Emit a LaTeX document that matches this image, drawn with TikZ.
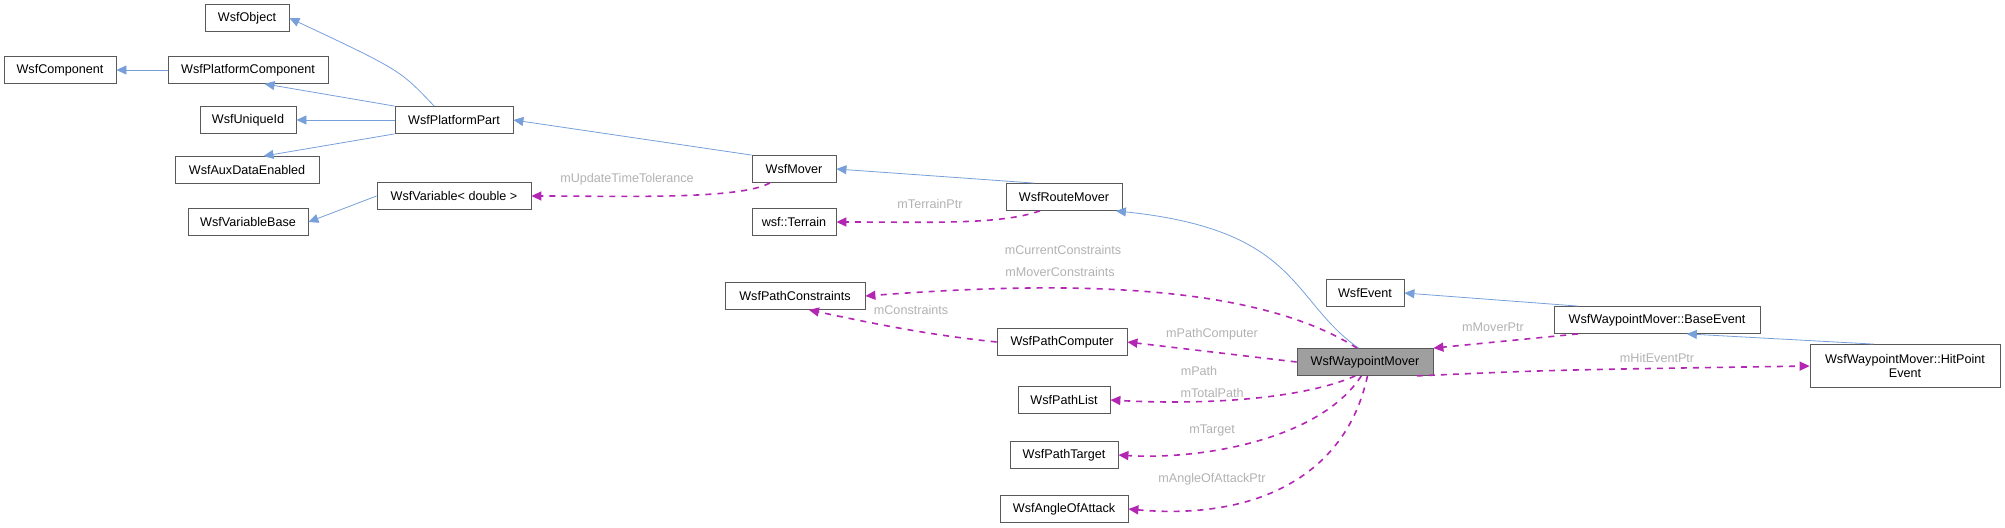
\documentclass[tikz,border=0pt]{standalone}
\usepackage{fontspec}
\setmainfont{Liberation Sans}
\usetikzlibrary{arrows.meta,positioning}

\tikzset{
  cls/.style={draw=gray!70!black, fill=white, minimum height=13.5pt, inner sep=1pt, font=\fontsize{6.3}{7}\selectfont},
  inh/.style={draw=cyan!50!blue!55, -{Triangle[length=5pt,width=4.5pt]}},
  use/.style={draw=violet!70!magenta!85, dashed, thick, -{Triangle[length=5pt,width=4.5pt]}},
  lbl/.style={text=gray!60, font=\fontsize{6.3}{7}\selectfont, inner sep=0pt}
}

\begin{document}
\begin{tikzpicture}[x=0.5pt,y=-0.5pt]
    \useasboundingbox (0,0) rectangle (2005,528);

    % Classes
    \node[cls, minimum width=42pt] (Object) at (247,18) {WsfObject};
    \node[cls, minimum width=56pt] (Component) at (60,70) {WsfComponent};
    \node[cls, minimum width=80pt] (PlatformComponent) at (248,70) {WsfPlatformComponent};
    \node[cls, minimum width=48pt] (UniqueId) at (248,120) {WsfUniqueId};
    \node[cls, minimum width=59pt] (PlatformPart) at (454,120) {WsfPlatformPart};
    \node[cls, minimum width=72pt] (AuxData) at (247,170) {WsfAuxDataEnabled};
    \node[cls, minimum width=77pt] (VariableT) at (454,196) {WsfVariable< double >};
    \node[cls, minimum width=60pt] (VariableBase) at (248,222) {WsfVariableBase};
    \node[cls, minimum width=42pt] (Mover) at (794,169) {WsfMover};
    \node[cls, minimum width=42pt] (Terrain) at (794,222) {wsf::Terrain};
    \node[cls, minimum width=58pt] (RouteMover) at (1064,197) {WsfRouteMover};
    \node[cls, minimum width=70pt] (PathConstraints) at (795,296) {WsfPathConstraints};
    \node[cls, minimum width=65pt] (PathComputer) at (1062,342) {WsfPathComputer};
    \node[cls, minimum width=46pt] (PathList) at (1064,400) {WsfPathList};
    \node[cls, minimum width=54pt] (PathTarget) at (1064,455) {WsfPathTarget};
    \node[cls, minimum width=64pt] (AngleOfAttack) at (1064,509) {WsfAngleOfAttack};
    \node[cls, minimum width=39pt] (Event) at (1365,293) {WsfEvent};
    \node[cls, minimum width=103pt] (BaseEvent) at (1657,320) {WsfWaypointMover::BaseEvent};
    \node[cls, minimum width=68pt, fill=gray!75] (WaypointMover) at (1365,362) {WsfWaypointMover};
    \node[cls, minimum width=95pt, minimum height=21.5pt, align=center] (HitPoint) at (1905,366) {WsfWaypointMover::HitPoint\\Event};

    % Inheritance
    \draw[inh] (PlatformComponent) -- (Component);
    \draw[inh] (PlatformPart.145) .. controls (400,70) .. (Object.east);
    \draw[inh] (PlatformPart.north west) -- (PlatformComponent.-40);
    \draw[inh] (PlatformPart) -- (UniqueId);
    \draw[inh] (PlatformPart.south west) -- (AuxData.40);
    \draw[inh] (VariableT.west) -- (VariableBase.east);
    \draw[inh] (Mover.north west) -- (PlatformPart.east);
    \draw[inh] (RouteMover.155) -- (Mover.east);
    \draw[inh] (WaypointMover.115) .. controls (1290,300) and (1300,230) .. (RouteMover.-15);
    \draw[inh] (BaseEvent.170) -- (Event.east);
    \draw[inh] (HitPoint.145) -- (BaseEvent.-25);

    % Usage
    \draw[use] (Mover.-150) .. controls (740,200) and (620,196) .. (VariableT.east);
    \draw[use] (RouteMover.-150) .. controls (1000,225) and (930,222) .. (Terrain.east);
    \draw[use] (WaypointMover.120) .. controls (1250,280) and (1050,282) .. (PathConstraints.east);
    \draw[use] (PathComputer.west) .. controls (930,335) and (880,325) .. (PathConstraints.-45);
    \draw[use] (WaypointMover.west) -- (PathComputer.east);
    \draw[use] (WaypointMover.-125) .. controls (1300,400) and (1200,405) .. (PathList.east);
    \draw[use] (WaypointMover.-105) .. controls (1320,440) and (1200,460) .. (PathTarget.east);
    \draw[use] (WaypointMover.-80) .. controls (1345,480) and (1250,520) .. (AngleOfAttack.east);
    \draw[use] (BaseEvent.-170) -- (WaypointMover.north east);
    \draw[use] (WaypointMover.-15) .. controls (1550,370) .. (HitPoint.west);

    % Labels
    \node[lbl] (lTolerance) at (627,179) {mUpdateTimeTolerance};
    \node[lbl] (lTerrain) at (930,204) {mTerrainPtr};
    \node[lbl] (lCurrent) at (1063,250) {mCurrentConstraints};
    \node[lbl] (lMover) at (1060,272) {mMoverConstraints};
    \node[lbl] (lConstraints) at (911,310) {mConstraints};
    \node[lbl] (lComputer) at (1212,334) {mPathComputer};
    \node[lbl] (lMoverPtr) at (1493,327) {mMoverPtr};
    \node[lbl] (lHit) at (1657,358) {mHitEventPtr};
    \node[lbl] (lPath) at (1199,371) {mPath};
    \node[lbl] (lTotal) at (1212,393) {mTotalPath};
    \node[lbl] (lTarget) at (1212,430) {mTarget};
    \node[lbl] (lAngle) at (1212,479) {mAngleOfAttackPtr};
\end{tikzpicture}
\end{document}
